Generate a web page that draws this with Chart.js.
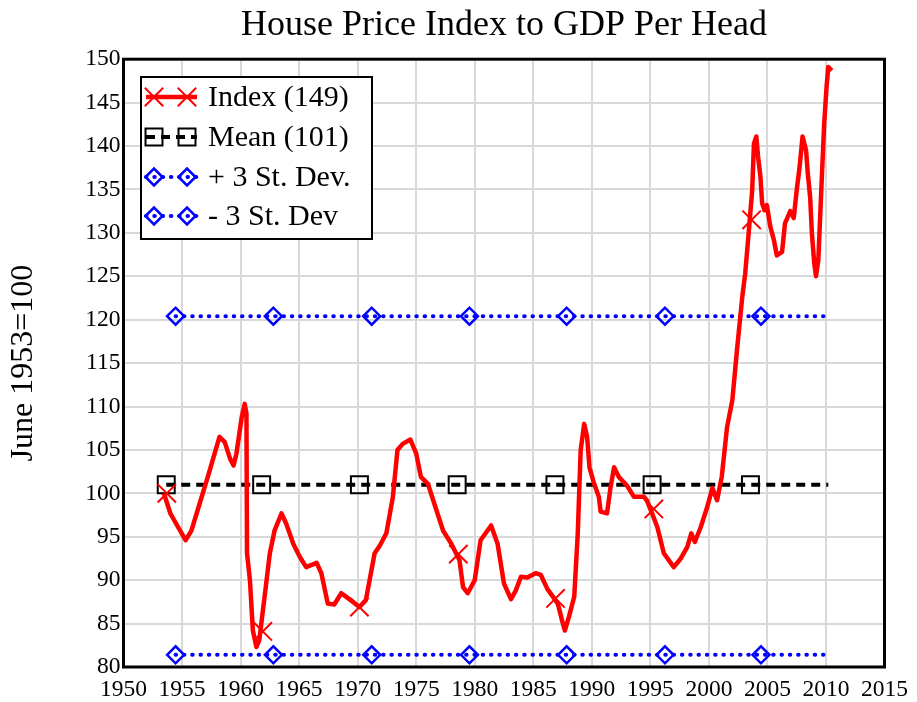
<!DOCTYPE html>
<html>
<head>
<meta charset="utf-8">
<script src="https://cdn.jsdelivr.net/npm/chart.js@4/dist/chart.umd.min.js"></script>
<style>
  body { margin: 0; background: #fff; }
  canvas { display: block; }
</style>
</head>
<body>
<canvas id="myChart" width="917" height="702"></canvas>
<script>
// Index line (years / values)
const indexYears = [1953.45, 1954.0, 1954.5, 1955.3, 1955.8, 1956.5, 1957.2, 1958.2, 1958.65, 1959.1,
  1959.4, 1959.65, 1960.1, 1960.35, 1960.5, 1960.55, 1960.8, 1961.05, 1961.35, 1961.6,
  1962.05, 1962.5, 1962.9, 1963.5, 1963.9, 1964.5, 1965.05, 1965.6, 1966.5, 1966.9,
  1967.45, 1968.0, 1968.6, 1969.0, 1969.6, 1970.15, 1970.7, 1971.45, 1971.9, 1972.45,
  1973.0, 1973.4, 1973.85, 1974.5, 1975.0, 1975.4, 1976.0, 1976.55, 1977.3, 1978.0,
  1978.7, 1979.0, 1979.4, 1980.0, 1980.5, 1981.4, 1981.95, 1982.5, 1983.1, 1983.5,
  1983.95, 1984.5, 1985.2, 1985.65, 1986.2, 1987.1, 1987.45, 1987.7, 1988.05, 1988.5,
  1988.8, 1989.05, 1989.35, 1989.6, 1989.8, 1990.2, 1990.6, 1990.75, 1991.3, 1991.6,
  1991.9, 1992.3, 1993.0, 1993.6, 1994.45, 1994.7, 1995.15, 1995.6, 1996.15, 1997.0,
  1997.6, 1998.15, 1998.5, 1998.8, 1999.3, 1999.85, 2000.3, 2000.7, 2001.1, 2001.55,
  2002.0, 2002.4, 2002.85, 2003.1, 2003.35, 2003.7, 2003.85, 2004.05, 2004.2, 2004.4,
  2004.55, 2004.75, 2004.95, 2005.25, 2005.55, 2005.8, 2006.25, 2006.5, 2006.95, 2007.25,
  2007.5, 2007.75, 2008.0, 2008.3, 2008.45, 2008.65, 2008.8, 2009.0, 2009.15, 2009.35,
  2009.6, 2009.85, 2010.05, 2010.2, 2010.5];
const indexValues = [100.0, 97.7, 96.5, 94.6, 95.7, 98.8, 101.9, 106.5, 105.9, 104.0,
  103.2, 104.6, 108.8, 110.3, 109.2, 93.1, 90.0, 84.2, 82.3, 83.1,
  88.1, 93.1, 95.7, 97.7, 96.5, 94.2, 92.7, 91.5, 92.0, 90.8,
  87.3, 87.2, 88.5, 88.1, 87.5, 86.9, 87.7, 93.1, 94.0, 95.4,
  99.5, 105.0, 105.7, 106.2, 104.6, 101.9, 101.1, 98.8, 95.7, 94.2,
  92.3, 89.2, 88.5, 90.0, 94.6, 96.3, 94.2, 89.6, 87.8, 88.8,
  90.4, 90.3, 90.8, 90.6, 89.0, 87.3, 85.4, 84.2, 85.8, 88.1,
  95.4, 105.0, 108.0, 106.5, 103.0, 101.1, 99.6, 97.9, 97.7, 100.7,
  103.0, 101.9, 100.9, 99.6, 99.6, 99.2, 97.7, 96.1, 93.1, 91.5,
  92.5, 93.8, 95.4, 94.4, 96.1, 98.4, 100.6, 99.2, 101.9, 107.6,
  110.7, 116.5, 122.6, 125.3, 129.2, 134.9, 140.3, 141.1, 138.8, 136.5,
  133.4, 132.6, 133.2, 130.7, 129.2, 127.4, 127.8, 131.1, 132.5, 131.7,
  134.9, 137.6, 141.1, 139.5, 136.8, 134.1, 129.9, 126.5, 125.0, 126.9,
  134.9, 142.6, 146.8, 149.1, 148.7];

// Cross markers on the index line
const indexMarkYears = [1953.7, 1961.9, 1970.15, 1978.6, 1986.9, 1995.3, 2003.65];
const indexMarkValues = [100.0, 84.1, 86.9, 93.0, 87.9, 98.2, 131.5];

// Mean and +/- 3 standard deviation lines (last point has no marker)
const meanYears = [1953.65, 1961.8, 1970.15, 1978.5, 1986.85, 1995.15, 2003.55, 2010.2];
const meanValue = 101;
const sdYears = [1954.45, 1962.8, 1971.2, 1979.55, 1987.85, 1996.25, 2004.45, 2010.1];
const sdUpper = 120.4;
const sdLower = 81.4;

// Axes
const xTicks = [1950, 1955, 1960, 1965, 1970, 1975, 1980, 1985, 1990, 1995, 2000, 2005, 2010, 2015];
const yTicks = [80, 85, 90, 95, 100, 105, 110, 115, 120, 125, 130, 135, 140, 145, 150];

const legendLabels = ['Index (149)', 'Mean (101)', '+ 3 St. Dev.', '- 3 St. Dev'];

const serif = '"Liberation Serif", "Times New Roman", serif';

function pts(xs, ys) {
  return xs.map((x, i) => ({ x: x, y: Array.isArray(ys) ? ys[i] : ys }));
}
function noLastPoint(r) {
  return function (ctx) {
    return ctx.dataIndex === ctx.dataset.data.length - 1 ? 0 : r;
  };
}

// Box around the plot + custom legend with marker-line-marker samples
const framePlugin = {
  id: 'frame',
  afterDatasetsDraw(chart) {
    const a = chart.chartArea;
    const c = chart.ctx;
    c.save();
    c.strokeStyle = '#000';
    c.lineWidth = 3;
    c.strokeRect(a.left, a.top, a.right - a.left, a.bottom - a.top);
    c.restore();
  },
  afterDraw(chart) {
    const c = chart.ctx;
    const bx = 141, by = 77, bw = 231, bh = 162;
    c.save();
    c.fillStyle = '#fff';
    c.fillRect(bx, by, bw, bh);
    c.strokeStyle = '#000';
    c.lineWidth = 2;
    c.strokeRect(bx, by, bw, bh);

    const samples = [
      { line: 'red', w: 4.5, dash: [], cap: 'butt', ps: 'crossRot', r: 13, pc: 'red', pw: 2 },
      { line: '#000', w: 4, dash: [9, 6], cap: 'butt', ps: 'rect', r: 12, pc: '#000', pw: 2 },
      { line: '#0000ff', w: 4, dash: [0.5, 7.8], cap: 'round', ps: 'rectRot', r: 8.5, pc: '#0000ff', pw: 2.5 },
      { line: '#0000ff', w: 4, dash: [0.5, 7.8], cap: 'round', ps: 'rectRot', r: 8.5, pc: '#0000ff', pw: 2.5 }
    ];
    const rowY = [97, 137, 177, 216];
    samples.forEach((s, i) => {
      const y = rowY[i];
      c.beginPath();
      c.strokeStyle = s.line;
      c.lineWidth = s.w;
      c.setLineDash(s.dash);
      c.lineCap = s.cap;
      c.moveTo(146, y);
      c.lineTo(197, y);
      c.stroke();
      c.setLineDash([]);
      c.lineCap = 'butt';
      c.strokeStyle = s.pc;
      c.lineWidth = s.pw;
      c.fillStyle = 'rgba(0,0,0,0)';
      [154, 187].forEach(px => {
        Chart.helpers.drawPoint(c, { pointStyle: s.ps, radius: s.r, borderWidth: s.pw, rotation: 0 }, px, y);
      });
      c.fillStyle = '#000';
      c.font = '30px ' + serif;
      c.textBaseline = 'middle';
      c.textAlign = 'left';
      c.fillText(legendLabels[i], 208, y + 1);
    });
    c.restore();
  }
};

const ctx = document.getElementById('myChart').getContext('2d');
new Chart(ctx, {
  type: 'line',
  data: {
    datasets: [
      {
        label: legendLabels[0],
        data: pts(indexYears, indexValues),
        borderColor: 'red',
        borderWidth: 4.5,
        pointRadius: 0,
        tension: 0,
        borderJoinStyle: 'round',
        order: 1
      },
      {
        label: 'index markers',
        data: pts(indexMarkYears, indexMarkValues),
        showLine: false,
        pointStyle: 'crossRot',
        pointRadius: 13,
        pointBorderColor: 'red',
        pointBorderWidth: 2,
        order: 0
      },
      {
        label: legendLabels[1],
        data: pts(meanYears, meanValue),
        borderColor: '#000',
        borderWidth: 4,
        borderDash: [9, 6],
        pointStyle: 'rect',
        pointRadius: noLastPoint(12),
        pointBorderColor: '#000',
        pointBorderWidth: 2,
        pointBackgroundColor: 'rgba(0,0,0,0)',
        order: 2
      },
      {
        label: legendLabels[2],
        data: pts(sdYears, sdUpper),
        borderColor: '#0000ff',
        borderWidth: 4,
        borderDash: [0.5, 7.8],
        borderCapStyle: 'round',
        pointStyle: 'rectRot',
        pointRadius: noLastPoint(8.5),
        pointBorderColor: '#0000ff',
        pointBorderWidth: 2.5,
        pointBackgroundColor: 'rgba(0,0,0,0)',
        order: 3
      },
      {
        label: legendLabels[3],
        data: pts(sdYears, sdLower),
        borderColor: '#0000ff',
        borderWidth: 4,
        borderDash: [0.5, 7.8],
        borderCapStyle: 'round',
        pointStyle: 'rectRot',
        pointRadius: noLastPoint(8.5),
        pointBorderColor: '#0000ff',
        pointBorderWidth: 2.5,
        pointBackgroundColor: 'rgba(0,0,0,0)',
        order: 3
      }
    ]
  },
  options: {
    responsive: false,
    animation: false,
    layout: { padding: { left: 0, right: 31, top: 0, bottom: 0 } },
    plugins: {
      legend: { display: false },
      tooltip: { enabled: false },
      title: {
        display: true,
        text: 'House Price Index to GDP Per Head',
        color: '#000',
        fullSize: false,
        font: { family: serif, size: 36, weight: 'normal' },
        padding: { top: 4, bottom: 12 }
      }
    },
    scales: {
      x: {
        type: 'linear',
        min: 1950,
        max: 2015,
        afterBuildTicks(scale) { scale.ticks = xTicks.map(v => ({ value: v })); },
        afterFit(scale) { scale.height = 35; },
        ticks: {
          color: '#000',
          padding: 9,
          maxRotation: 0,
          autoSkip: false,
          font: { family: serif, size: 23.5 },
          callback: v => String(v)
        },
        grid: { color: '#d9d9d9', lineWidth: 2, drawTicks: false },
        border: { display: false }
      },
      y: {
        min: 80,
        max: 150,
        afterBuildTicks(scale) { scale.ticks = yTicks.map(v => ({ value: v })); },
        afterFit(scale) { scale.width = 123.5; },
        ticks: {
          color: '#000',
          padding: 3,
          autoSkip: false,
          font: { family: serif, size: 23.5 },
          callback: v => String(v)
        },
        grid: { color: '#d9d9d9', lineWidth: 2, drawTicks: false },
        border: { display: false },
        title: {
          display: true,
          text: 'June 1953=100',
          color: '#000',
          font: { family: serif, size: 32 },
          padding: { top: 4, bottom: 0 }
        }
      }
    }
  },
  plugins: [framePlugin]
});
</script>
</body>
</html>
